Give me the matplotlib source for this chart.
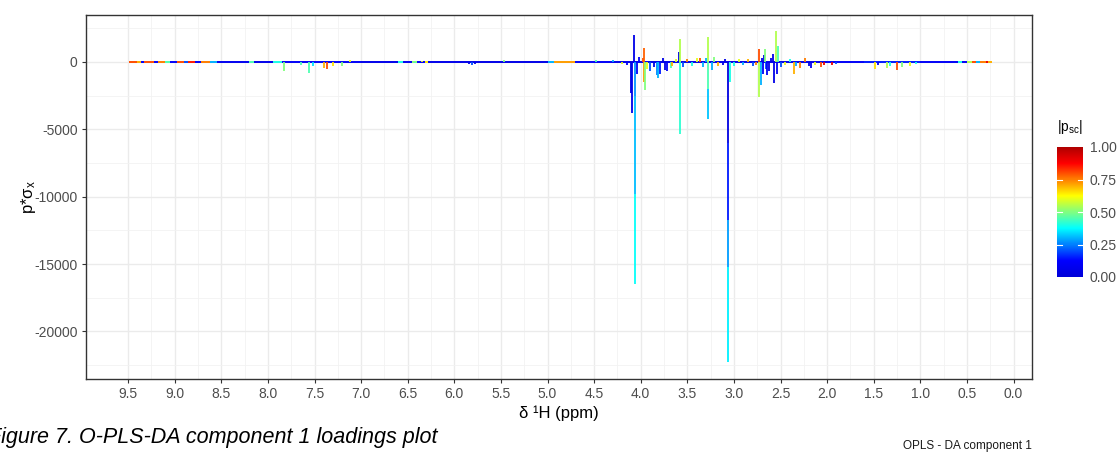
import numpy as np
import matplotlib
matplotlib.use("Agg")
import matplotlib.pyplot as plt
from matplotlib.collections import LineCollection
from matplotlib.colors import LinearSegmentedColormap, Normalize
from matplotlib.cm import ScalarMappable

plt.rcParams['font.family'] = ['Liberation Sans', 'DejaVu Sans']
plt.rcParams['mathtext.fontset'] = 'custom'
plt.rcParams['mathtext.rm'] = 'Liberation Sans'
plt.rcParams['mathtext.it'] = 'Liberation Sans:italic'

# spikes: chemical shift, start value, end value, |p_sc|
spike_ppm = [7.83, 7.65, 7.56, 7.52, 7.40, 7.37, 7.30, 7.21, 7.12,
             6.42, 6.35, 5.84, 5.81, 5.78, 5.47, 4.48,
             4.30, 4.20, 4.15, 4.107, 4.093, 4.075, 4.064, 4.064, 4.064, 4.04, 4.02,
             3.98, 3.965, 3.965, 3.955, 3.93, 3.90, 3.86, 3.83, 3.81, 3.79, 3.76,
             3.74, 3.72, 3.68, 3.66, 3.62, 3.585, 3.578, 3.578, 3.55, 3.50, 3.45,
             3.40, 3.36, 3.33, 3.30, 3.28, 3.275, 3.275, 3.24, 3.21, 3.17, 3.12,
             3.10, 3.060, 3.060, 3.060, 3.060, 3.045, 3.00, 2.95, 2.90, 2.85, 2.80,
             2.76, 2.735, 2.727, 2.709, 2.70, 2.69, 2.68, 2.665, 2.66, 2.64, 2.62,
             2.60, 2.58, 2.57, 2.552, 2.54, 2.53, 2.50, 2.45, 2.40, 2.352, 2.33,
             2.291, 2.237, 2.20, 2.178, 2.13, 2.065, 2.03, 1.951, 1.90, 1.486,
             1.45, 1.36, 1.33, 1.253, 1.20, 1.11, 1.05]
spike_from = [0, 0, 0, 0, 0, 0, 0, 0, 0,
              0, 0, 0, 0, 0, 0, 0,
              0, 0, 0, 0, 0, 0, 0, -2500, -9800, 0, 0,
              0, 0, 0, 0, 0, 0, 0, 0, 0, 0, 0,
              0, 0, 0, 0, 0, 0, 0, 0, 0, 0, 0,
              0, 0, 0, 0, 0, 0, -2000, 0, 0, 0, 0,
              0, 0, -6000, -11700, -15200, 0, 0, 0, 0, 0, 0,
              0, 0, 0, 0, 0, 0, 0, 0, 0, 0, 0,
              0, 0, 0, 0, 0, 0, 0, 0, 0, 0, 0,
              0, 0, 0, 0, 0, 0, 0, 0, 0, 0,
              0, 0, 0, 0, 0, 0, 0]
spike_to = [-680, -250, -790, -300, -450, -520, -320, -320, 120,
            -80, 60, -150, -250, -150, 180, 120,
            150, -150, -200, -2300, -3800, 2000, -2500, -9800, -16500, -900, 400,
            300, 1050, -1460, -2080, -500, -700, -400, -1000, -1210, -900, 300,
            -600, -700, -450, -300, 200, 720, 1710, -5320, -400, 200, -300,
            300, 300, -400, 300, 1880, -2000, -4230, -600, 400, -300, -250,
            250, -6000, -11700, -15200, -22300, -1500, -300, 200, -200, 200, -300,
            -250, 940, -2570, -1700, 300, -900, 500, 940, -500, -1000, -700,
            300, 600, -1530, 2300, -900, 1190, -400, -200, 200, -920, -300,
            -470, 270, -300, -470, -200, -350, -200, -250, -120, -540,
            -200, -470, -300, -590, -350, -300, -150]
spike_psc = [0.5, 0.45, 0.45, 0.35, 0.7, 0.8, 0.65, 0.5, 0.6,
             0.45, 0.6, 0.05, 0.2, 0.05, 0.5, 0.45,
             0.3, 0.6, 0.1, 0.03, 0.05, 0.05, 0.27, 0.31, 0.38, 0.1, 0.1,
             0.8, 0.78, 0.72, 0.5, 0.6, 0.2, 0.05, 0.25, 0.3, 0.15, 0.05,
             0.05, 0.1, 0.45, 0.7, 0.6, 0.04, 0.55, 0.42, 0.2, 0.75, 0.4,
             0.6, 0.8, 0.3, 0.3, 0.55, 0.45, 0.32, 0.3, 0.5, 0.7, 0.05,
             0.05, 0.03, 0.15, 0.28, 0.36, 0.4, 0.4, 0.6, 0.3, 0.7, 0.2,
             0.75, 0.8, 0.55, 0.3, 0.05, 0.1, 0.05, 0.5, 0.2, 0.1, 0.05,
             0.05, 0.05, 0.05, 0.55, 0.1, 0.45, 0.2, 0.6, 0.4, 0.7, 0.3,
             0.75, 0.75, 0.05, 0.08, 0.6, 0.8, 0.9, 0.9, 0.2, 0.65,
             0.1, 0.55, 0.4, 0.8, 0.5, 0.6, 0.4]

# baseline pieces along zero
base_start = [9.49, 9.40, 9.36, 9.33, 9.22, 9.18, 9.10, 9.05, 8.98, 8.90, 8.86,
              8.78, 8.72, 8.62, 8.55, 8.20, 8.15, 7.95, 7.85, 7.00,
              6.60, 6.55, 6.45, 6.40, 6.32, 6.28, 5.90, 5.00, 4.93, 4.70,
              4.30, 2.00, 1.60, 1.00, 0.60, 0.55, 0.50, 0.45, 0.40, 0.36, 0.30, 0.27]
base_end = [9.40, 9.36, 9.33, 9.22, 9.18, 9.10, 9.05, 8.98, 8.90, 8.86, 8.78,
            8.72, 8.62, 8.55, 8.20, 8.15, 7.95, 7.85, 7.00, 6.60,
            6.55, 6.45, 6.40, 6.32, 6.28, 5.90, 5.00, 4.93, 4.70, 4.30,
            2.00, 1.60, 1.00, 0.60, 0.55, 0.50, 0.45, 0.40, 0.36, 0.30, 0.27, 0.23]
base_psc = [0.8, 0.7, 0.1, 0.8, 0.1, 0.75, 0.45, 0.1, 0.8, 0.2, 0.85,
            0.1, 0.75, 0.3, 0.08, 0.45, 0.06, 0.4, 0.1, 0.06,
            0.4, 0.08, 0.5, 0.1, 0.65, 0.06, 0.05, 0.3, 0.72, 0.1,
            0.05, 0.1, 0.15, 0.1, 0.4, 0.1, 0.55, 0.8, 0.3, 0.75, 0.9, 0.7]

x_ticks = [9.5, 9.0, 8.5, 8.0, 7.5, 7.0, 6.5, 6.0, 5.5, 5.0, 4.5,
           4.0, 3.5, 3.0, 2.5, 2.0, 1.5, 1.0, 0.5, 0.0]
y_ticks = [0, -5000, -10000, -15000, -20000]
cbar_ticks = [0.0, 0.25, 0.5, 0.75, 1.0]

cmap = LinearSegmentedColormap.from_list(
    "mlike", ["#0000D8", "#0000FF", "#0080FF", "#00FFFF", "#80FF80",
              "#FFFF00", "#FF8000", "#FF0000", "#B00000"])
norm = Normalize(0, 1)

W, H = 1120, 453
fig = plt.figure(figsize=(W / 100, H / 100), dpi=100)
ax = fig.add_axes([86 / W, 1 - 379 / H, (1032 - 86) / W, (379 - 15) / H])

base_segs = [[(s, 0), (e, 0)] for s, e in zip(base_start, base_end)]
lc_base = LineCollection(base_segs, cmap=cmap, norm=norm, linewidths=1.4, zorder=3)
lc_base.set_array(np.array(base_psc))
ax.add_collection(lc_base)

spike_segs = [[(p, a), (p, b)] for p, a, b in zip(spike_ppm, spike_from, spike_to)]
lc = LineCollection(spike_segs, cmap=cmap, norm=norm, linewidths=1.3, zorder=4)
lc.set_array(np.array(spike_psc))
ax.add_collection(lc)

ax.set_xlim(9.952, -0.198)
ax.set_ylim(-23527, 3488)
ax.set_xticks(x_ticks)
ax.set_xticklabels([f"{t:.1f}" for t in x_ticks])
ax.set_yticks(y_ticks)
ax.set_yticklabels([str(t) for t in y_ticks])
ax.set_xticks(np.array(x_ticks[:-1]) - 0.25, minor=True)
ax.set_yticks([2500, -2500, -7500, -12500, -17500, -22500], minor=True)
ax.grid(True, which='major', color='#EBEBEB', lw=1.0, zorder=0)
ax.grid(True, which='minor', color='#F2F2F2', lw=0.6, zorder=0)
ax.set_axisbelow(True)
ax.tick_params(which='major', length=3, width=0.8, color='#333333',
               labelcolor='#4D4D4D', labelsize=10, pad=3)
ax.tick_params(which='minor', length=0)
for sp in ax.spines.values():
    sp.set_color('#333333')
    sp.set_linewidth(1.0)

fig.text(559 / W, 1 - 413 / H, 'δ ¹H (ppm)', ha='center', va='center', fontsize=12)
fig.text(28 / W, 1 - 197 / H, r'p*σ$_\mathregular{x}$', ha='center', va='center',
         rotation=90, fontsize=12)

# colour bar
cax = fig.add_axes([1057 / W, 1 - 277 / H, 26 / W, 130 / H])
cb = fig.colorbar(ScalarMappable(norm=norm, cmap=cmap), cax=cax, ticks=cbar_ticks)
cb.outline.set_visible(False)
cb.ax.set_yticklabels([f"{t:.2f}" for t in cbar_ticks])
cb.ax.tick_params(length=0, labelsize=10, labelcolor='#4D4D4D', pad=5)
for t in cbar_ticks[1:-1]:
    cax.plot([0, 0.2], [t, t], color='white', lw=0.8)
    cax.plot([0.8, 1], [t, t], color='white', lw=0.8)
fig.text(1057 / W, 1 - 127 / H, r'$\mathregular{|p_{sc}|}$', ha='left', va='center',
         fontsize=10)

# caption runs off the left edge, as in the source image
fig.text(437 / W, 1 - 437 / H, 'Figure 7. O-PLS-DA component 1 loadings plot',
         ha='right', va='center', fontsize=15.5, style='italic')
fig.text(1032 / W, 1 - 446 / H, 'OPLS - DA component 1', ha='right', va='center',
         fontsize=8.5, color='#1A1A1A')

fig.savefig('out.png', dpi=100)
